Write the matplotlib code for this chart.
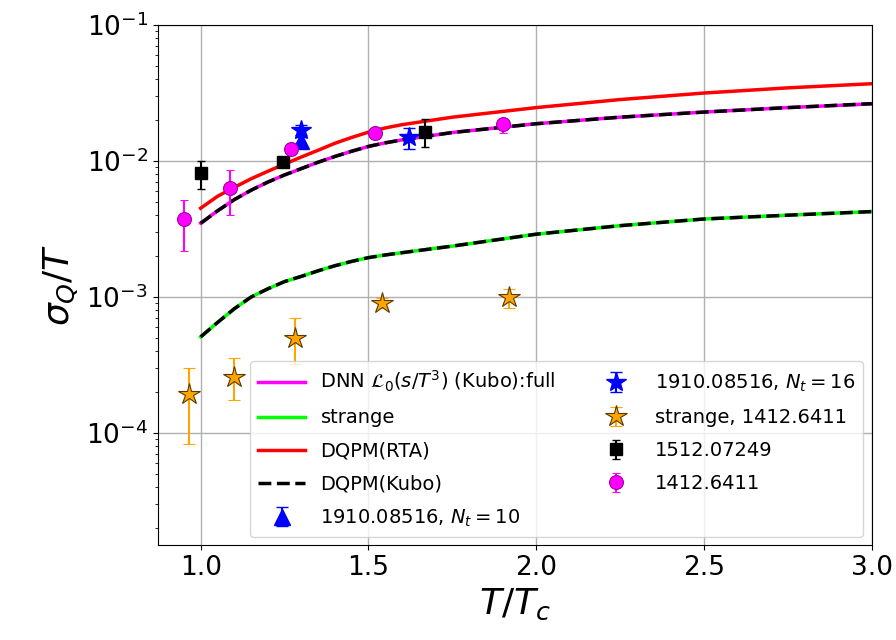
import numpy as np
import matplotlib.pyplot as plt

# model curves, T/Tc grid
t_grid = [1.0, 1.05, 1.1, 1.15, 1.2, 1.25, 1.3, 1.35, 1.4, 1.45, 1.5, 1.55, 1.6, 1.75,
          2.0, 2.25, 2.5, 2.75, 3.0]
dnn_full = [3.5e-3, 4.3e-3, 5.2e-3, 6.1e-3, 7.0e-3, 7.9e-3, 8.8e-3, 9.8e-3, 1.08e-2, 1.18e-2,
            1.28e-2, 1.36e-2, 1.43e-2, 1.62e-2, 1.88e-2, 2.1e-2, 2.29e-2, 2.47e-2, 2.63e-2]
dnn_strange = [5.1e-4, 6.5e-4, 8.2e-4, 1.0e-3, 1.15e-3, 1.3e-3, 1.42e-3, 1.56e-3, 1.7e-3, 1.83e-3,
               1.95e-3, 2.04e-3, 2.12e-3, 2.37e-3, 2.9e-3, 3.35e-3, 3.75e-3, 4.0e-3, 4.25e-3]
dqpm_rta = [4.5e-3, 5.5e-3, 6.4e-3, 7.4e-3, 8.4e-3, 9.5e-3, 1.07e-2, 1.2e-2, 1.35e-2, 1.49e-2,
            1.63e-2, 1.75e-2, 1.85e-2, 2.1e-2, 2.47e-2, 2.83e-2, 3.16e-2, 3.45e-2, 3.7e-2]
dqpm_kubo_full = [3.48e-3, 4.3e-3, 5.2e-3, 6.1e-3, 7.0e-3, 7.9e-3, 8.8e-3, 9.8e-3, 1.08e-2, 1.18e-2,
                  1.28e-2, 1.36e-2, 1.43e-2, 1.62e-2, 1.88e-2, 2.1e-2, 2.29e-2, 2.47e-2, 2.64e-2]
dqpm_kubo_strange = [5.1e-4, 6.5e-4, 8.2e-4, 1.0e-3, 1.15e-3, 1.3e-3, 1.42e-3, 1.56e-3, 1.7e-3,
                     1.83e-3, 1.95e-3, 2.04e-3, 2.12e-3, 2.37e-3, 2.9e-3, 3.35e-3, 3.75e-3,
                     4.0e-3, 4.25e-3]

# lattice data: x, y, lower y, upper y
nt10_x = [1.30]
nt10_y = [1.4e-2]
nt10_lo = [1.3e-2]
nt10_hi = [1.5e-2]

nt16_x = [1.30, 1.62]
nt16_y = [1.7e-2, 1.5e-2]
nt16_lo = [1.55e-2, 1.23e-2]
nt16_hi = [1.85e-2, 1.75e-2]

strange_x = [0.965, 1.10, 1.28, 1.54, 1.92]
strange_y = [1.94e-4, 2.6e-4, 5.0e-4, 9.0e-4, 1.0e-3]
strange_lo = [8.3e-5, 1.75e-4, 3.2e-4, 8.3e-4, 8.3e-4]
strange_hi = [3.0e-4, 3.55e-4, 7.0e-4, 9.8e-4, 1.15e-3]

b1512_x = [1.0, 1.245, 1.67]
b1512_y = [8.2e-3, 9.8e-3, 1.63e-2]
b1512_lo = [6.2e-3, 9.3e-3, 1.27e-2]
b1512_hi = [1.0e-2, 1.03e-2, 2.04e-2]

m1412_x = [0.95, 1.086, 1.27, 1.52, 1.90]
m1412_y = [3.75e-3, 6.3e-3, 1.23e-2, 1.6e-2, 1.87e-2]
m1412_lo = [2.2e-3, 4.0e-3, 1.1e-2, 1.45e-2, 1.6e-2]
m1412_hi = [5.2e-3, 8.6e-3, 1.35e-2, 1.72e-2, 2.0e-2]

x_ticks = [1.0, 1.5, 2.0, 2.5, 3.0]


def yerr(y, lo, hi):
    y = np.array(y)
    return [y - np.array(lo), np.array(hi) - y]


fig = plt.figure(figsize=(8.96, 6.4), dpi=100)
ax = fig.add_axes([0.176, 0.148, 0.797, 0.813])

ax.plot(t_grid, dnn_full, '-', color='magenta', lw=2.5, label=r'DNN $\mathcal{L}_0(s/T^3)$ (Kubo):full')
ax.plot(t_grid, dnn_strange, '-', color='lime', lw=2.5, label='strange')
ax.plot(t_grid, dqpm_rta, '-', color='red', lw=2.5, label='DQPM(RTA)')
ax.plot(t_grid, dqpm_kubo_full, '--', color='black', lw=2.5, label='DQPM(Kubo)')
ax.plot(t_grid, dqpm_kubo_strange, '--', color='black', lw=2.5)

ax.errorbar(nt10_x, nt10_y, yerr=yerr(nt10_y, nt10_lo, nt10_hi), fmt='^', color='blue',
            ms=11, capsize=4, label=r'1910.08516, $N_t = 10$')
ax.errorbar(nt16_x, nt16_y, yerr=yerr(nt16_y, nt16_lo, nt16_hi), fmt='*', color='blue',
            ms=15, capsize=4, label=r'1910.08516, $N_t = 16$')
ax.errorbar(strange_x, strange_y, yerr=yerr(strange_y, strange_lo, strange_hi), fmt='*',
            color='orange', mfc='orange', mec='#5a3a00', mew=0.8, ms=16, capsize=4,
            label='strange, 1412.6411')
ax.errorbar(b1512_x, b1512_y, yerr=yerr(b1512_y, b1512_lo, b1512_hi), fmt='s', color='black',
            ms=8, capsize=3, label='1512.07249')
ax.errorbar(m1412_x, m1412_y, yerr=yerr(m1412_y, m1412_lo, m1412_hi), fmt='o', color='magenta',
            mec='#a000a0', mew=0.8, ms=10, capsize=3, label='1412.6411')

ax.set_yscale('log')
ax.set_xlim(0.872, 3.0)
ax.set_ylim(1.5e-5, 1e-1)
ax.set_xticks(x_ticks)
ax.grid(True, which='major', color='#b0b0b0', lw=1)
ax.tick_params(axis='both', which='major', labelsize=19)
ax.set_xlabel(r'$T/T_c$', fontsize=26)
ax.set_ylabel(r'$\sigma_Q/T$', fontsize=26)

ax.legend(ncol=2, loc='lower right', fontsize=14, labelspacing=0.72,
          handlelength=2.4, columnspacing=1.9, borderaxespad=0.45)

fig.savefig('out.png', dpi=100)
